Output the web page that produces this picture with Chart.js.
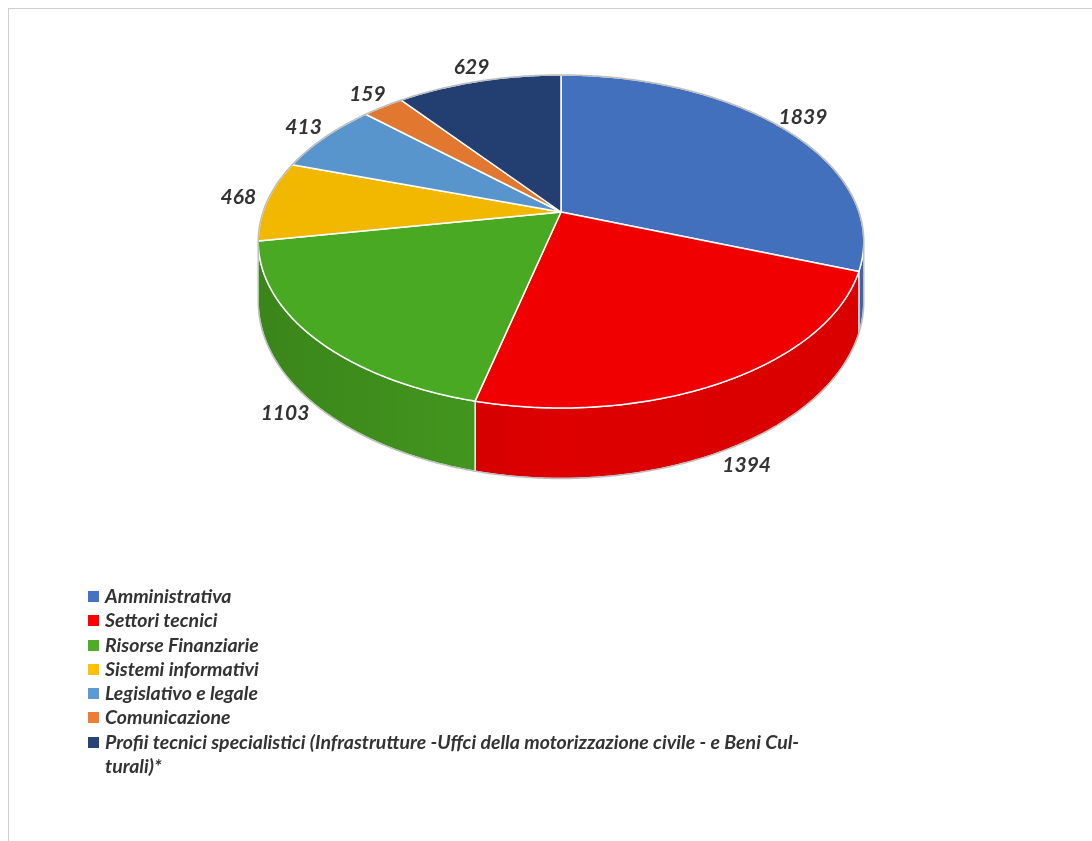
<!DOCTYPE html>
<html>
<head>
<meta charset="utf-8">
<script src="https://cdn.jsdelivr.net/npm/chart.js@4.4.0/dist/chart.umd.min.js"></script>
<style>
  body { margin: 0; background: #fff; }
  #wrap { position: relative; width: 1092px; height: 841px; overflow: hidden; }
  #frame { position: absolute; left: 8px; top: 8px; right: -2px; bottom: -2px;
           border-top: 1px solid #cfcfcf; border-left: 1px solid #cfcfcf; }
  #myChart { position: absolute; left: 0; top: 0; }
  #legend { position: absolute; left: 88px; top: 584px; width: 748px; }
  .item { display: flex; align-items: flex-start; color: #333;
          font: italic bold 19.5px Lato, "Open Sans", sans-serif; line-height: 24.3px; }
  .sw { width: 11px; height: 11px; margin: 7px 6px 0 0; flex: none; }
</style>
</head>
<body>
<div id="wrap">
  <div id="frame"></div>
  <canvas id="myChart" width="1092" height="841"></canvas>
  <div id="legend"></div>
</div>
<script>
var categories = [
  'Amministrativa',
  'Settori tecnici',
  'Risorse Finanziarie',
  'Sistemi informativi',
  'Legislativo e legale',
  'Comunicazione',
  'Profii tecnici specialistici (Infrastrutture -Uffci della motorizzazione civile - e Beni Cul\u00ADturali)*'
];
var values = [1839, 1394, 1103, 468, 413, 159, 629];
var colors = ['#4270bd', '#f00000', '#4aa922', '#f2b800', '#5895cd', '#e2782f', '#233f72'];
var legendColors = ['#4472c4', '#ff0000', '#4eac26', '#ffc000', '#5b9bd5', '#ed7d31', '#264478'];

// perspective settings for the tilted pie
var cx = 561, cy = 212, rx = 298, ry = 161.3, k = 0.177, depth = 58;

function pt(t, r, down) {
  var X = r * Math.cos(t), Z = r * Math.sin(t), s = 1 / (1 - k * Z);
  return [cx + rx * X * s, cy + ry * Z * s + down * depth * s];
}

function darken(hex, f) {
  var n = parseInt(hex.slice(1), 16);
  var r = Math.round(((n >> 16) & 255) * f), g = Math.round(((n >> 8) & 255) * f), b = Math.round((n & 255) * f);
  return 'rgb(' + r + ',' + g + ',' + b + ')';
}

function rim(ctx, a, b, down, first) {
  var n = Math.max(2, Math.ceil(Math.abs(b - a) / 0.01));
  for (var i = 0; i <= n; i++) {
    var p = pt(a + (b - a) * i / n, 1, down);
    if (i === 0 && first) ctx.moveTo(p[0], p[1]); else ctx.lineTo(p[0], p[1]);
  }
}

var pie3d = {
  id: 'pie3d',
  beforeDatasetsDraw: function(chart) {
    var ctx = chart.ctx;
    var arcs = chart.getDatasetMeta(0).data;
    var t0 = Math.asin(k), t1 = Math.PI - t0;
    ctx.save();
    ctx.lineJoin = 'round';

    // side walls
    arcs.forEach(function(arc, i) {
      var a = Math.max(arc.startAngle, t0), b = Math.min(arc.endAngle, t1);
      if (a >= b) return;
      ctx.beginPath();
      rim(ctx, a, b, 0, true);
      rim(ctx, b, a, 1, false);
      ctx.closePath();
      ctx.fillStyle = darken(colors[i], 0.94);
      ctx.fill();
      var g = ctx.createLinearGradient(cx - rx, 0, cx + rx, 0);
      g.addColorStop(0, 'rgba(0,0,0,0.16)');
      g.addColorStop(0.5, 'rgba(0,0,0,0.02)');
      g.addColorStop(1, 'rgba(0,0,0,0.04)');
      ctx.fillStyle = g;
      ctx.fill();
      ctx.strokeStyle = '#ffffff';
      ctx.lineWidth = 1.2;
      ctx.stroke();
    });

    // top faces
    arcs.forEach(function(arc, i) {
      ctx.beginPath();
      ctx.moveTo(cx, cy);
      rim(ctx, arc.startAngle, arc.endAngle, 0, false);
      ctx.closePath();
      ctx.fillStyle = colors[i];
      ctx.fill();
      ctx.strokeStyle = '#ffffff';
      ctx.lineWidth = 1.5;
      ctx.stroke();
    });

    // outer silhouette
    ctx.strokeStyle = '#bdbdbd';
    ctx.lineWidth = 1.5;
    ctx.beginPath();
    rim(ctx, t1, t0 + 2 * Math.PI, 0, true);
    var p = pt(t0, 1, 1);
    ctx.lineTo(p[0], p[1]);
    rim(ctx, t0, t1, 1, false);
    p = pt(t1, 1, 0);
    ctx.lineTo(p[0], p[1]);
    ctx.stroke();

    // value labels
    ctx.fillStyle = '#333333';
    ctx.font = 'italic bold 21px Lato, "Open Sans", sans-serif';
    ctx.textAlign = 'center';
    ctx.textBaseline = 'middle';
    arcs.forEach(function(arc, i) {
      var mid = (arc.startAngle + arc.endAngle) / 2;
      var front = Math.sin(mid) > 0;
      var q = pt(mid, 1.1, front ? 1 : 0);
      ctx.fillText(String(values[i]), q[0], q[1] - (front ? 6 : 3));
    });
    ctx.restore();
    return false;
  }
};

var chart = new Chart(document.getElementById('myChart').getContext('2d'), {
  type: 'pie',
  data: {
    labels: categories,
    datasets: [{ data: values, backgroundColor: colors, borderWidth: 0 }]
  },
  options: {
    responsive: false,
    animation: false,
    plugins: { legend: { display: false }, tooltip: { enabled: false } }
  },
  plugins: [pie3d]
});

var legend = document.getElementById('legend');
categories.forEach(function(name, i) {
  var row = document.createElement('div');
  row.className = 'item';
  var sw = document.createElement('span');
  sw.className = 'sw';
  sw.style.background = legendColors[i];
  var txt = document.createElement('span');
  txt.textContent = name;
  row.appendChild(sw);
  row.appendChild(txt);
  legend.appendChild(row);
});
</script>
</body>
</html>
